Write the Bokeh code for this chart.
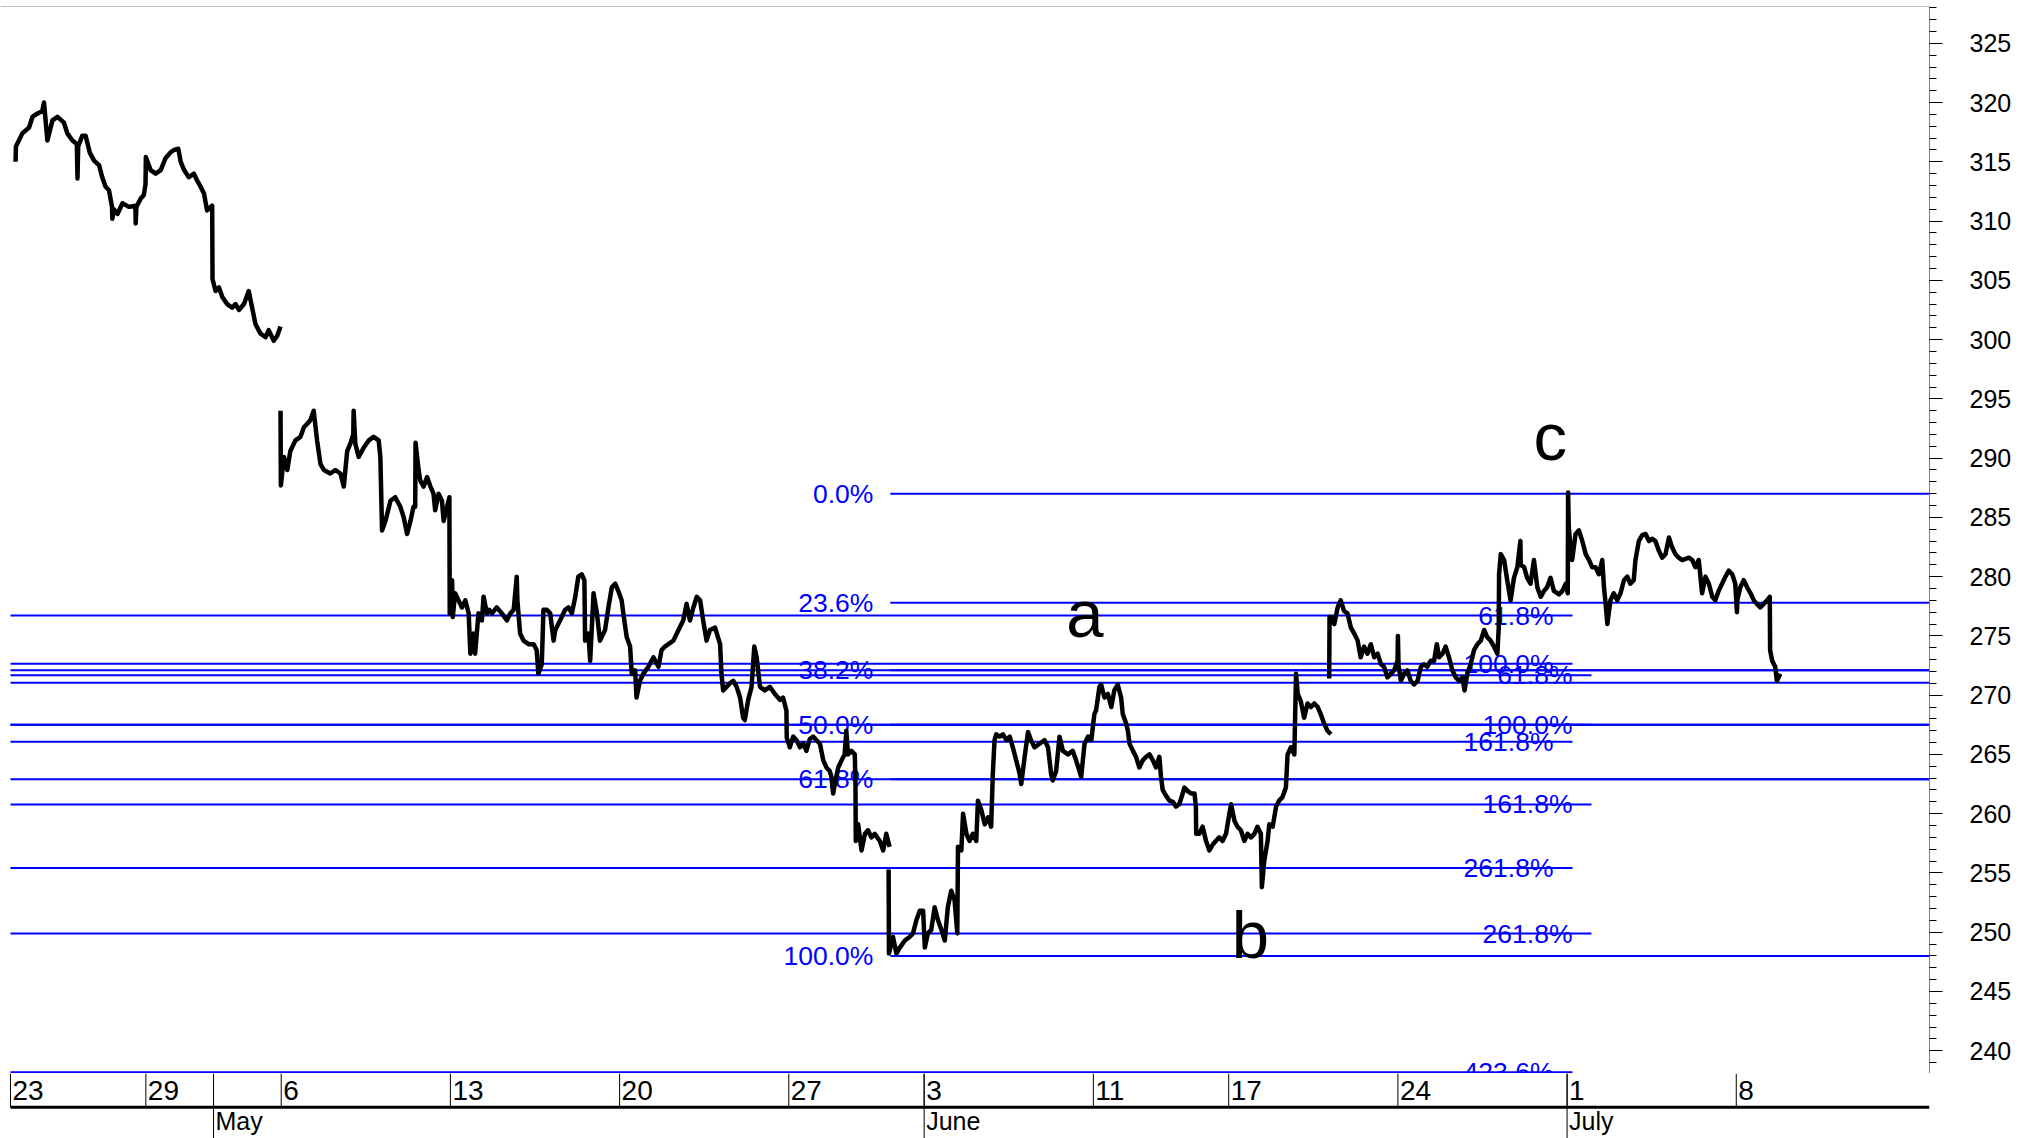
import numpy as np
from bokeh.plotting import figure
from bokeh.models import Range1d, SingleIntervalTicker, Span
from bokeh.layouts import column
from bokeh.embed import file_html
from bokeh.resources import INLINE
from bokeh.core.properties import value

# ---------------- data (time in trading-day units from 23 Apr) ----------------
seg1_t = [0.15, 0.16, 0.35, 0.55, 0.65, 0.75, 0.94, 0.99, 1.09, 1.24, 1.39, 1.58, 1.68, 1.83, 1.96, 1.98, 2.0, 2.12, 2.22, 2.34,
          2.47, 2.62, 2.71, 2.81, 2.91, 3.0, 3.01, 3.05, 3.16, 3.31, 3.5, 3.69, 3.70, 3.72, 3.85, 3.94, 3.99, 4.0, 4.14, 4.29,
          4.44, 4.58, 4.73, 4.83, 4.96, 5.03, 5.13, 5.27, 5.42, 5.52, 5.62, 5.72, 5.81, 5.96, 5.97, 6.06, 6.16, 6.26, 6.4, 6.55,
          6.65, 6.75, 6.9, 7.04, 7.14, 7.24, 7.39, 7.54, 7.63, 7.78, 7.88, 7.98]
seg1_p = [315.0, 316.3, 317.4, 317.9, 318.8, 319.0, 319.3, 320.0, 316.8, 318.5, 318.8, 318.3, 317.4, 316.8, 316.5, 313.6, 316.3, 317.2, 317.2, 315.8,
          315.1, 314.7, 313.7, 312.9, 312.6, 311.2, 310.2, 311.0, 310.6, 311.5, 311.2, 311.3, 309.8, 311.2, 311.9, 312.2, 313.1, 315.4, 314.3, 314.0,
          314.3, 315.3, 315.8, 316.0, 316.1, 315.0, 314.3, 313.7, 314.0, 313.4, 312.9, 312.3, 310.9, 311.3, 305.1, 304.1, 304.4, 303.6, 303.0, 302.7,
          303.0, 302.5, 303.0, 304.1, 302.7, 301.3, 300.5, 300.2, 300.8, 299.9, 300.3, 301.1]

seg2_t = [7.98, 7.99, 8.08, 8.18, 8.27, 8.42, 8.57, 8.67, 8.77, 8.86, 8.96, 9.06, 9.16, 9.26, 9.45, 9.6, 9.75, 9.85, 9.95, 10.04,
          10.13, 10.14, 10.19, 10.29, 10.44, 10.59, 10.73, 10.88, 10.93, 10.98, 11.08, 11.23, 11.37, 11.52, 11.62, 11.72, 11.82, 11.91, 11.96, 11.97,
          12.06, 12.11, 12.21, 12.31, 12.41, 12.5, 12.55, 12.65, 12.75, 12.8, 12.9, 12.97, 12.98, 13.05, 13.07, 13.14, 13.24, 13.34, 13.44, 13.54,
          13.59, 13.68, 13.73, 13.83, 13.93, 13.98, 14.08, 14.15, 14.23, 14.37, 14.52, 14.67, 14.77, 14.87, 14.96, 14.98, 15.06, 15.16, 15.31, 15.46,
          15.55, 15.6, 15.7, 15.75, 15.85, 15.95, 16.05, 16.1, 16.24, 16.39, 16.49, 16.59, 16.69, 16.78, 16.88, 16.96, 16.98, 17.08, 17.13, 17.23,
          17.33, 17.42, 17.57, 17.67, 17.77, 17.87, 17.96, 18.06, 18.11, 18.21, 18.31, 18.36, 18.46, 18.5, 18.6, 18.7, 18.85, 19.0, 19.15, 19.24,
          19.34, 19.44, 19.59, 19.74, 19.88, 19.98, 20.08, 20.18, 20.28, 20.38, 20.47, 20.57, 20.67, 20.82, 20.97, 21.01, 21.06, 21.16, 21.26, 21.36,
          21.46, 21.56, 21.65, 21.7, 21.8, 21.9, 21.98, 22.05, 22.15, 22.29, 22.44, 22.59, 22.74, 22.83, 22.93, 22.94, 23.03, 23.13, 23.23, 23.33,
          23.43, 23.52, 23.62, 23.72, 23.82, 23.92, 24.02, 24.11, 24.21, 24.26, 24.31, 24.36, 24.46, 24.56, 24.65, 24.7, 24.75, 24.85, 24.95, 24.97,
          24.98, 25.05, 25.15, 25.25, 25.34, 25.44, 25.54, 25.69, 25.79, 25.88, 25.98]
seg2_p = [294.0, 287.7, 290.1, 289.0, 290.6, 291.5, 291.8, 292.6, 292.9, 293.2, 294.0, 291.5, 289.5, 289.0, 288.7, 289.0, 288.7, 287.6, 290.6, 291.2,
          292.0, 294.0, 291.2, 290.1, 290.9, 291.5, 291.8, 291.5, 290.1, 283.9, 284.7, 286.4, 286.7, 285.9, 285.0, 283.6, 284.7, 285.9, 285.9, 291.3,
          289.0, 288.1, 287.6, 288.4, 287.6, 287.0, 285.6, 287.0, 286.4, 284.7, 285.9, 286.7, 276.9, 279.7, 276.6, 278.6, 278.0, 277.4, 278.0, 276.9,
          273.5, 275.2, 273.5, 276.9, 276.3, 278.3, 276.9, 277.2, 276.9, 277.4, 276.9, 276.3, 276.9, 277.2, 280.0, 278.0, 275.2, 274.6, 274.3, 274.3,
          273.8, 271.8, 272.6, 277.2, 277.2, 276.9, 274.6, 275.5, 276.3, 277.2, 277.4, 276.9, 278.3, 280.0, 280.2, 279.7, 274.6, 275.2, 272.9, 278.6,
          276.9, 274.6, 275.5, 277.4, 279.1, 279.4, 278.8, 278.0, 276.9, 274.9, 274.1, 271.8, 272.1, 269.8, 271.2, 271.8, 272.4, 273.2, 272.4, 273.8,
          274.1, 274.3, 274.6, 275.5, 276.3, 277.7, 276.3, 277.4, 278.3, 278.0, 276.3, 274.6, 275.5, 275.7, 274.3, 271.8, 270.4, 270.7, 271.0, 271.2,
          270.7, 269.8, 268.1, 267.9, 269.6, 270.7, 274.1, 273.2, 270.7, 270.4, 270.7, 270.1, 269.6, 269.8, 268.7, 266.4, 265.6, 266.5, 266.2, 265.6,
          265.9, 265.3, 266.3, 266.5, 266.2, 265.9, 264.5, 263.9, 263.6, 263.1, 261.7, 262.5, 263.9, 264.5, 265.0, 267.0, 265.0, 265.3, 265.0, 262.5,
          257.7, 259.1, 256.9, 258.3, 258.6, 258.0, 258.3, 257.7, 256.9, 258.3, 257.2]

seg3_t = [25.95, 25.96, 26.08, 26.18, 26.28, 26.43, 26.57, 26.67, 26.77, 26.87, 26.97, 27.02, 27.11, 27.21, 27.31, 27.41, 27.51, 27.61, 27.7, 27.8,
          27.9, 27.98, 28.0, 28.1, 28.15, 28.25, 28.34, 28.44, 28.54, 28.59, 28.69, 28.79, 28.89, 28.98, 29.03, 29.08, 29.13, 29.23, 29.33, 29.43,
          29.53, 29.62, 29.72, 29.82, 29.87, 29.97, 30.07, 30.16, 30.26, 30.41, 30.56, 30.66, 30.75, 30.8, 30.9, 31.0, 31.1, 31.25, 31.39, 31.49,
          31.59, 31.64, 31.74, 31.84, 31.94, 32.03, 32.08, 32.18, 32.23, 32.33, 32.43, 32.53, 32.62, 32.72, 32.82, 32.87, 32.97, 33.02, 33.07, 33.17,
          33.26, 33.36, 33.46, 33.56, 33.66, 33.76, 33.85, 33.95, 34.0, 34.05, 34.15, 34.25, 34.35, 34.44, 34.54, 34.64, 34.69, 34.79, 34.89, 34.99,
          35.03, 35.04, 35.13, 35.23, 35.33, 35.43, 35.53, 35.62, 35.72, 35.82, 35.92, 36.02, 36.07, 36.17, 36.26, 36.36, 36.46, 36.56, 36.66, 36.76,
          36.85, 36.95, 36.98, 37.05, 37.15, 37.2, 37.3, 37.4, 37.49, 37.59, 37.69, 37.74, 37.84, 37.94, 37.99, 38.04, 38.13, 38.23, 38.33, 38.43,
          38.53, 38.63, 38.72, 38.82, 38.92, 39.02]
seg3_p = [255.3, 248.2, 249.6, 248.2, 248.7, 249.3, 249.6, 249.9, 251.0, 251.8, 251.8, 248.7, 249.9, 250.2, 252.1, 251.0, 250.2, 249.3, 252.1, 253.5,
          252.7, 249.9, 257.2, 256.9, 260.0, 258.3, 257.7, 258.3, 257.7, 261.1, 260.3, 259.1, 259.7, 258.9, 263.4, 266.2, 266.7, 266.5, 266.7, 266.2,
          266.5, 265.6, 264.5, 263.4, 262.5, 264.8, 266.9, 266.2, 265.6, 265.9, 266.2, 265.6, 263.4, 262.8, 263.6, 266.5, 265.3, 265.0, 265.3, 264.5,
          263.6, 263.1, 265.9, 266.5, 266.2, 268.4, 268.7, 270.7, 270.9, 269.8, 270.1, 269.0, 270.4, 270.9, 269.8, 268.4, 267.6, 267.0, 265.9, 265.3,
          264.8, 263.9, 264.5, 264.8, 265.0, 264.5, 263.9, 264.8, 263.1, 262.0, 261.5, 261.1, 261.0, 260.6, 260.8, 261.7, 262.2, 261.9, 261.7, 261.7,
          260.6, 258.3, 258.3, 258.9, 257.7, 256.9, 257.4, 257.7, 258.0, 257.7, 258.3, 260.0, 260.8, 259.4, 258.9, 258.6, 257.7, 258.3, 258.0, 258.3,
          258.9, 258.3, 253.8, 256.0, 257.7, 259.1, 258.9, 260.6, 261.1, 261.4, 262.2, 265.0, 265.6, 265.0, 271.8, 270.1, 269.5, 268.1, 269.3, 269.0,
          269.3, 269.0, 268.4, 267.6, 267.0, 266.7]

seg4_t = [38.97, 38.98, 39.02, 39.12, 39.22, 39.31, 39.41, 39.51, 39.61, 39.71, 39.81, 39.9, 40.0, 40.1, 40.2, 40.3, 40.4, 40.5, 40.59, 40.69,
          40.79, 40.89, 40.99, 41.0, 41.02, 41.09, 41.18, 41.28, 41.38, 41.48, 41.58, 41.68, 41.77, 41.87, 41.97, 42.07, 42.15, 42.22, 42.32, 42.41,
          42.51, 42.61, 42.71, 42.81, 42.91, 42.97, 43.05, 43.15, 43.25, 43.35, 43.45, 43.55, 43.64, 43.74, 43.84, 43.94, 43.98, 43.99, 44.04, 44.14,
          44.23, 44.33, 44.43, 44.53, 44.62, 44.63, 44.73, 44.82, 44.92, 45.02, 45.12, 45.22, 45.32, 45.41, 45.51, 45.61, 45.76, 45.86, 45.96, 46.02,
          46.03, 46.05, 46.1, 46.15, 46.25, 46.35, 46.45, 46.55, 46.65, 46.74, 46.84, 46.94, 47.04, 47.09, 47.14, 47.19, 47.28, 47.38, 47.48, 47.58,
          47.68, 47.78, 47.87, 47.97, 48.02, 48.12, 48.22, 48.32, 48.42, 48.51, 48.61, 48.71, 48.81, 48.91, 49.01, 49.1, 49.2, 49.3, 49.4, 49.5,
          49.6, 49.7, 49.79, 49.89, 49.99, 50.09, 50.19, 50.29, 50.38, 50.48, 50.58, 50.68, 50.78, 50.88, 50.97, 51.02, 51.03, 51.12, 51.22, 51.32,
          51.42, 51.52, 51.61, 51.71, 51.81, 51.91, 51.99, 52.0, 52.06, 52.15, 52.2, 52.3]
seg4_p = [271.4, 276.6, 276.6, 276.0, 277.4, 278.0, 277.1, 276.9, 275.7, 275.2, 274.6, 273.2, 274.1, 273.5, 274.3, 273.2, 273.5, 272.6, 272.4, 271.5,
          271.8, 272.1, 272.9, 275.0, 272.5, 271.2, 271.8, 272.1, 271.2, 270.9, 271.2, 272.4, 272.6, 272.4, 272.9, 272.9, 274.3, 273.2, 273.5, 274.1,
          273.2, 272.1, 271.5, 271.2, 271.5, 270.4, 271.8, 272.6, 273.8, 274.3, 274.6, 275.5, 274.9, 274.6, 274.1, 273.5, 275.7, 280.2, 281.9, 281.4,
          279.7, 278.0, 279.9, 280.8, 283.0, 281.0, 280.8, 279.9, 279.4, 281.4, 279.1, 278.3, 278.8, 279.1, 279.9, 278.8, 278.5, 278.8, 279.4, 278.6,
          287.1, 284.2, 282.5, 281.4, 283.6, 283.9, 283.0, 281.9, 281.4, 280.8, 280.8, 280.2, 281.4, 279.1, 277.7, 276.0, 278.0, 278.6, 278.0, 278.6,
          279.7, 280.0, 279.4, 279.7, 281.4, 283.0, 283.5, 283.6, 283.0, 283.2, 283.0, 282.2, 281.6, 281.9, 283.3, 282.5, 281.9, 281.6, 281.4, 281.5,
          281.6, 281.4, 280.8, 281.4, 278.6, 280.0, 279.4, 278.3, 278.0, 278.8, 279.4, 280.0, 280.5, 280.2, 279.4, 277.0, 278.0, 279.1, 279.7, 279.1,
          278.6, 278.0, 277.7, 277.4, 277.7, 278.0, 278.3, 273.8, 272.9, 272.4, 271.2, 271.8]

# Fibonacci retracement (low 31 May -> high 1 Jul)
ret_high = 287.0
ret_low = 248.0
ret_start_t = 26.0
ret_levels = [0.0, 23.6, 38.2, 50.0, 61.8, 100.0]

# Fibonacci projections
ext_a_zero = 283.3
ext_a_range = 10.65
ext_a_end_t = 46.16
ext_a_levels = [61.8, 100.0, 161.8, 261.8, 423.6]

ext_b_zero = 278.4
ext_b_range = 10.89
ext_b_end_t = 46.72
ext_b_levels = [61.8, 100.0, 161.8, 261.8]

# full-width horizontal lines
hline_prices = [272.1, 271.05, 267.5, 262.9]

# wave labels
wave_names = ["a", "b", "c"]
wave_t = [31.75, 36.64, 45.5]
wave_p = [276.86, 249.82, 291.85]

# date axis
day_tick_t = [0, 4, 8, 13, 18, 23, 27, 32, 36, 41, 46, 51]
day_tick_labels = ["23", "29", "6", "13", "20", "27", "3", "11", "17", "24", "1", "8"]
month_tick_t = [6, 27, 46]
month_labels = ["May", "June", "July"]

# ---------------- figure ----------------
X_START, X_END = -0.2955, 56.71
Y_MIN, Y_MAX = 238.078, 328.105
BLUE = "#0000FF"
GRAY = "#808080"
SANS = value("Liberation Sans")

p = figure(width=2030, height=1073, x_range=Range1d(X_START, X_END), y_range=Range1d(Y_MIN, Y_MAX),
           x_axis_location=None, y_axis_location="right", toolbar_location=None,
           output_backend="svg", min_border_left=0, min_border_right=101,
           min_border_top=6, min_border_bottom=0)
p.grid.visible = False
p.outline_line_color = None
p.background_fill_color = "white"
p.border_fill_color = "white"
p.add_layout(Span(location=Y_MAX, dimension="width", line_color=GRAY, line_width=1))
p.add_layout(Span(location=Y_MIN, dimension="width", line_color=GRAY, line_width=1))

ax = p.yaxis[0]
ax.ticker = SingleIntervalTicker(interval=5, num_minor_ticks=5)
ax.axis_line_color = GRAY
ax.major_tick_out = 13
ax.major_tick_in = 0
ax.minor_tick_out = 7
ax.minor_tick_in = 0
ax.major_tick_line_color = "black"
ax.minor_tick_line_color = "black"
ax.major_label_text_font = "Liberation Sans"
ax.major_label_text_font_size = "25px"
ax.major_label_text_color = "black"
ax.major_label_standoff = 27

# full-width lines
p.segment(x0=[0] * len(hline_prices), x1=[X_END] * len(hline_prices), y0=hline_prices, y1=hline_prices,
          line_color=BLUE, line_width=2)

# retracement
ret_prices = [ret_high - lv / 100.0 * (ret_high - ret_low) for lv in ret_levels]
p.segment(x0=[ret_start_t] * len(ret_prices), x1=[X_END] * len(ret_prices), y0=ret_prices, y1=ret_prices,
          line_color=BLUE, line_width=2)
p.text(x=[ret_start_t] * len(ret_prices), y=ret_prices, text=["%.1f%%" % lv for lv in ret_levels],
       x_offset=-17, text_align="right", text_baseline="middle", text_color=BLUE,
       text_font=SANS, text_font_size="26.5px")

# projections
for zero, rng, end_t, levels in [(ext_a_zero, ext_a_range, ext_a_end_t, ext_a_levels),
                                 (ext_b_zero, ext_b_range, ext_b_end_t, ext_b_levels)]:
    prices = [zero - lv / 100.0 * rng for lv in levels]
    p.segment(x0=[0] * len(prices), x1=[end_t] * len(prices), y0=prices, y1=prices,
              line_color=BLUE, line_width=2)
    p.text(x=[end_t] * len(prices), y=prices, text=["%.1f%%" % lv for lv in levels],
           x_offset=-19, text_align="right", text_baseline="middle", text_color=BLUE,
           text_font=SANS, text_font_size="26.5px")

# price
for st, sp in [(seg1_t, seg1_p), (seg2_t, seg2_p), (seg3_t, seg3_p), (seg4_t, seg4_p)]:
    p.line(x=st, y=sp, line_color="black", line_width=4.5, line_join="round")

# wave labels
p.text(x=wave_t, y=wave_p, text=wave_names, text_align="center", text_baseline="middle",
       text_color="black", text_font=SANS, text_font_size="67px")

# ---------------- date strip ----------------
p2 = figure(width=2030, height=65, x_range=p.x_range, y_range=Range1d(0, 1),
            x_axis_location=None, y_axis_location=None, toolbar_location=None,
            output_backend="svg", min_border_left=0, min_border_right=101,
            min_border_top=0, min_border_bottom=0)
p2.grid.visible = False
p2.outline_line_color = None
p2.background_fill_color = "white"
p2.border_fill_color = "white"

ROW = 0.48
p2.segment(x0=day_tick_t, x1=day_tick_t, y0=[ROW] * len(day_tick_t), y1=[1] * len(day_tick_t),
           line_color="black", line_width=1)
p2.segment(x0=month_tick_t, x1=month_tick_t, y0=[0] * len(month_tick_t), y1=[1] * len(month_tick_t),
           line_color="black", line_width=1)
p2.segment(x0=[0], x1=[X_END], y0=[ROW], y1=[ROW], line_color="black", line_width=3)
p2.text(x=day_tick_t, y=[0.74] * len(day_tick_t), text=day_tick_labels, x_offset=2,
        text_align="left", text_baseline="middle", text_color="black",
        text_font=SANS, text_font_size="28px")
p2.text(x=month_tick_t, y=[0.265] * len(month_tick_t), text=month_labels, x_offset=2,
        text_align="left", text_baseline="middle", text_color="black",
        text_font=SANS, text_font_size="25px")

layout = column(p, p2, spacing=0)
open("out.html", "w").write(file_html(layout, INLINE))
